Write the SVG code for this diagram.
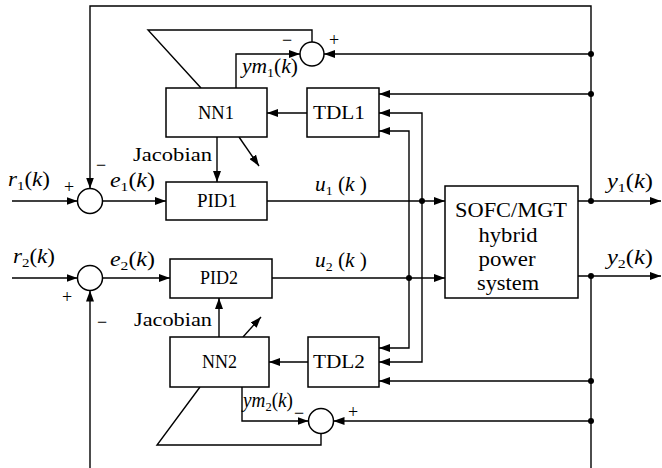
<svg xmlns="http://www.w3.org/2000/svg" width="662" height="468" viewBox="0 0 662 468">
<style>
.box{fill:#fff;stroke:#000;stroke-width:1.5}
.ln{fill:none;stroke:#000;stroke-width:1.4}
.arr{marker-end:url(#ah)}
.sum{fill:#fff;stroke:#000;stroke-width:1.5}
.dot{fill:#000}
text{font-family:"Liberation Serif","Times New Roman",serif;fill:#000}
.lbl{font-size:20px}
.bl{font-size:18px}
.big{font-size:20px;text-anchor:middle}
.sg{font-size:18px;text-anchor:middle}
.it{font-style:italic}
.sub{font-size:13px}
</style>
<defs>
<marker id="ah" markerWidth="11" markerHeight="8" refX="11" refY="4" orient="auto" markerUnits="userSpaceOnUse">
<path d="M0,0 L11,4 L0,8 z" fill="#000"/>
</marker>
</defs>
<g id="connectors">
<path class="ln arr" d="M591,201 V6 H90 V188.5"/>
<path class="ln arr" d="M12,201 H77.5"/>
<path class="ln arr" d="M102.5,201 H166"/>
<path class="ln arr" d="M267,201 H445"/>
<path class="ln arr" d="M578,201 H661"/>
<path class="ln arr" d="M12,278 H77.5"/>
<path class="ln arr" d="M102.5,278 H170"/>
<path class="ln arr" d="M272,278 H445"/>
<path class="ln arr" d="M578,276 H661"/>
<path class="ln" d="M591,276 V468"/>
<path class="ln arr" d="M90,468 V290.5"/>
<path class="ln arr" d="M591,54 H324"/>
<path class="ln arr" d="M591,94 H379"/>
<path class="ln arr" d="M591,381 H379"/>
<path class="ln arr" d="M591,421 H333.5"/>
<path class="ln arr" d="M307,113 H267"/>
<path class="ln arr" d="M308,362 H269"/>
<path class="ln arr" d="M422,201 V113 H379"/>
<path class="ln arr" d="M422,201 V362 H379"/>
<path class="ln arr" d="M409,278 V131 H379"/>
<path class="ln arr" d="M409,278 V348 H379"/>
<path class="ln arr" d="M236,88 V54 H300"/>
<path class="ln" d="M201,88 L148,30 H312 V42"/>
<path class="ln arr" d="M217,137 V182"/>
<path class="ln arr" d="M239,137 L259,166"/>
<path class="ln arr" d="M219,337 V298"/>
<path class="ln arr" d="M243,337 L261,317"/>
<path class="ln arr" d="M242,387 V421 H308.5"/>
<path class="ln" d="M200,387 L157,445 H321 V433.5"/>
<circle class="dot" cx="591" cy="54" r="3"/>
<circle class="dot" cx="591" cy="94" r="3"/>
<circle class="dot" cx="591" cy="201" r="3"/>
<circle class="dot" cx="591" cy="276" r="3"/>
<circle class="dot" cx="591" cy="381" r="3"/>
<circle class="dot" cx="591" cy="421" r="3"/>
<circle class="dot" cx="422" cy="201" r="3"/>
<circle class="dot" cx="409" cy="278" r="3"/>
</g>
<g id="sum1">
<circle class="sum" cx="90" cy="201" r="12.5"/>
<text class="sg" x="69" y="193">+</text>
<text class="sg" x="101" y="171">−</text>
</g>
<g id="sum2">
<circle class="sum" cx="90" cy="278" r="12.5"/>
<text class="sg" x="67" y="303">+</text>
<text class="sg" x="102" y="328">−</text>
</g>
<g id="sum3">
<circle class="sum" cx="312" cy="54" r="12"/>
<text class="sg" x="287" y="46">−</text>
<text class="sg" x="334" y="46">+</text>
</g>
<g id="sum4">
<circle class="sum" cx="321" cy="421" r="12.5"/>
<text class="sg" x="299" y="419">−</text>
<text class="sg" x="353" y="418">+</text>
</g>
<g id="NN1">
<rect class="box" x="166" y="88" width="101" height="49"/>
<text class="bl" x="198" y="119" textLength="36" lengthAdjust="spacingAndGlyphs">NN1</text>
</g>
<g id="TDL1">
<rect class="box" x="307" y="88" width="72" height="49"/>
<text class="bl" x="313" y="119" textLength="52" lengthAdjust="spacingAndGlyphs">TDL1</text>
</g>
<g id="PID1">
<rect class="box" x="166" y="182" width="101" height="38"/>
<text class="bl" x="197" y="207" textLength="40" lengthAdjust="spacingAndGlyphs">PID1</text>
</g>
<g id="PID2">
<rect class="box" x="170" y="259" width="102" height="39"/>
<text class="bl" x="200" y="284" textLength="38" lengthAdjust="spacingAndGlyphs">PID2</text>
</g>
<g id="NN2">
<rect class="box" x="170" y="337" width="99" height="50"/>
<text class="bl" x="202" y="368" textLength="35" lengthAdjust="spacingAndGlyphs">NN2</text>
</g>
<g id="TDL2">
<rect class="box" x="308" y="337" width="71" height="50"/>
<text class="bl" x="313" y="368" textLength="52" lengthAdjust="spacingAndGlyphs">TDL2</text>
</g>
<g id="SOFC">
<rect class="box" x="445" y="186" width="133" height="112"/>
<text class="big" x="511" y="217" textLength="112" lengthAdjust="spacingAndGlyphs">SOFC/MGT</text>
<text class="big" x="508" y="242" textLength="59" lengthAdjust="spacingAndGlyphs">hybrid</text>
<text class="big" x="507" y="266" textLength="57" lengthAdjust="spacingAndGlyphs">power</text>
<text class="big" x="508" y="290" textLength="62" lengthAdjust="spacingAndGlyphs">system</text>
</g>
<g id="labels">
<text class="lbl" x="133" y="161" style="font-size:18px" textLength="79" lengthAdjust="spacingAndGlyphs">Jacobian</text>
<text class="lbl" x="134" y="326" style="font-size:18px" textLength="78" lengthAdjust="spacingAndGlyphs">Jacobian</text>
<text class="lbl" x="8" y="186" textLength="42" lengthAdjust="spacingAndGlyphs"><tspan class="it">r</tspan><tspan class="sub" dy="4">1</tspan><tspan dy="-4">(</tspan><tspan class="it">k</tspan>)</text>
<text class="lbl" x="13" y="263" textLength="42" lengthAdjust="spacingAndGlyphs"><tspan class="it">r</tspan><tspan class="sub" dy="4">2</tspan><tspan dy="-4">(</tspan><tspan class="it">k</tspan>)</text>
<text class="lbl" x="110" y="187" textLength="45" lengthAdjust="spacingAndGlyphs"><tspan class="it">e</tspan><tspan class="sub" dy="4">1</tspan><tspan dy="-4">(</tspan><tspan class="it">k</tspan>)</text>
<text class="lbl" x="110" y="266" textLength="45" lengthAdjust="spacingAndGlyphs"><tspan class="it">e</tspan><tspan class="sub" dy="4">2</tspan><tspan dy="-4">(</tspan><tspan class="it">k</tspan>)</text>
<text class="lbl" x="315" y="191" textLength="52" lengthAdjust="spacingAndGlyphs"><tspan class="it">u</tspan><tspan class="sub" dy="4">1</tspan><tspan dy="-4"> (</tspan><tspan class="it">k</tspan> )</text>
<text class="lbl" x="315" y="267" textLength="52" lengthAdjust="spacingAndGlyphs"><tspan class="it">u</tspan><tspan class="sub" dy="4">2</tspan><tspan dy="-4"> (</tspan><tspan class="it">k</tspan> )</text>
<text class="lbl" x="607" y="188" textLength="46" lengthAdjust="spacingAndGlyphs"><tspan class="it">y</tspan><tspan class="sub" dy="4">1</tspan><tspan dy="-4">(</tspan><tspan class="it">k</tspan>)</text>
<text class="lbl" x="607" y="264" textLength="46" lengthAdjust="spacingAndGlyphs"><tspan class="it">y</tspan><tspan class="sub" dy="4">2</tspan><tspan dy="-4">(</tspan><tspan class="it">k</tspan>)</text>
<text class="lbl" x="242" y="73" textLength="56" lengthAdjust="spacingAndGlyphs"><tspan class="it">ym</tspan><tspan class="sub" dy="4">1</tspan><tspan dy="-4">(</tspan><tspan class="it">k</tspan>)</text>
<text class="lbl" x="243" y="407" textLength="50" lengthAdjust="spacingAndGlyphs"><tspan class="it">ym</tspan><tspan class="sub" dy="4">2</tspan><tspan dy="-4">(</tspan><tspan class="it">k</tspan>)</text>
</g>
</svg>
